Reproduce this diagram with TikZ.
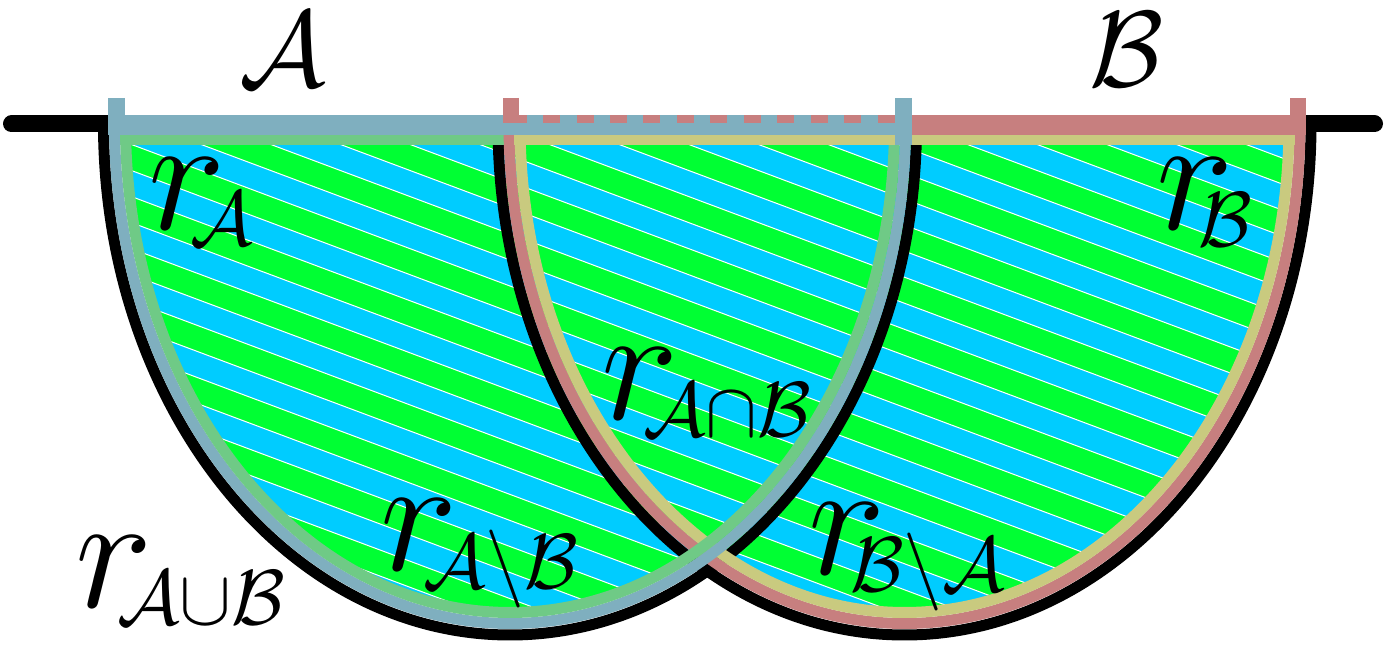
\RequirePackage{fix-cm}
\documentclass[tikz,border=0pt]{standalone}
\usepackage{amsmath,amssymb}
\usepackage{graphicx}
\usepackage{tikz}
\usetikzlibrary{positioning}
\definecolor{cA}{HTML}{7FAFBF}
\definecolor{cAin}{HTML}{6FCA86}
\definecolor{cB}{HTML}{C77F7F}
\definecolor{cBin}{HTML}{C9CA7F}
\definecolor{cG}{HTML}{00FF33}
\definecolor{cS}{HTML}{00CCFF}
\tikzset{
  outline/.style={line width=1.1pt,black},
  rimA/.style={line width=1.1pt,cA},
  rimAin/.style={line width=1.1pt,cAin},
  rimB/.style={line width=1.1pt,cB},
  rimBin/.style={line width=1.1pt,cBin},
  lidA/.style={line width=2pt,cA},
  lidB/.style={line width=2pt,cB},
  lidAin/.style={line width=1pt,cAin},
  lidBin/.style={line width=1pt,cBin},
  dashB/.style={line width=0.8pt,cB,dash pattern=on 1.7pt off 1.65pt},
  tickA/.style={line width=1.7pt,cA},
  tickB/.style={line width=1.6pt,cB},
  hatch/.style={line width=0.1pt,white},
  lbl/.style={inner sep=0pt,anchor=base west,font=\fontsize{16.5}{16.5}\selectfont},
  setlbl/.style={inner sep=0pt,anchor=base,font=\fontsize{10.8}{10.8}\selectfont},
}
% half ellipse hanging from the line: centre x, x radius, y radius, style
\newcommand{\bowl}[4]{\draw[#4] ({#1-#2},528) arc[start angle=180,end angle=360,x radius=#2,y radius=#3];}
% r with a tucked-in subscript
\newcommand{\rlab}[2]{$r$\kern-3.5pt\raisebox{-#2}{\scalebox{0.78}{\fontsize{10}{10}\selectfont$#1$}}}

\begin{document}
\begin{tikzpicture}[x=0.1pt,y=0.1pt]
  \useasboundingbox (0,0) rectangle (1388,652);
  % striped inside of both regions
  \begin{scope}
    \clip (125.5,528) arc[start angle=180,end angle=360,x radius=384.5,y radius=488.5] -- cycle
          (520,528) arc[start angle=180,end angle=360,x radius=384.5,y radius=488.5] -- cycle;
    \fill[cS] (0,0) rectangle (1388,652);
    \begin{scope}[shift={(130,482)},rotate=-20.5]
      \foreach \k in {-35,...,35}{
        \fill[cG] (-3000,{2*\k*24.4}) rectangle (3000,{(2*\k+1)*24.4});
      }
      \foreach \k in {-70,...,70}{
        \draw[hatch] (-3000,{\k*24.4}) -- (3000,{\k*24.4});
      }
    \end{scope}
  \end{scope}
  % base line
  \draw[line width=1.7pt,line cap=round] (11.5,528) -- (1374.5,528);
  % black rims
  \bowl{510}{406.5}{511}{outline}
  \bowl{904.5}{406.5}{511}{outline}
  \draw[lidAin] (119,512) -- (901,512);
  % rims of B, then A on top
  \bowl{904.5}{395.5}{499.5}{rimB}
  \bowl{904.5}{384.5}{488.5}{rimBin}
  \bowl{510}{395.5}{499.5}{rimA}
  \bowl{510}{384.5}{488.5}{rimAin}
  % lids
  \draw[lidBin] (514,512) -- (1295,512);
  \draw[lidA] (108,527) -- (912,527);
  \draw[lidB] (912,527) -- (1306,527);
  \draw[dashB] (509.5,533) -- (895,533);
  \draw[tickA] (116.5,554) -- (116.5,517);
  \draw[tickA] (903.5,554) -- (903.5,507);
  \draw[tickB] (511,554) -- (511,529);
  \draw[tickB] (1298,554) -- (1298,527);
  % labels
  \node[setlbl] (setA) at (283,565) {$\mathcal{A}$};
  \node[setlbl] (setB) at (1127,565) {$\mathcal{B}$};
  \node[lbl] (rA) at (146,422) {\rlab{\mathcal{A}}{1.6pt}};
  \node[lbl] (rB) at (1154,422) {\rlab{\mathcal{B}}{1.7pt}};
  \node[lbl] (rAB) at (599,232) {\rlab{\mathcal{A}{\cap}\mathcal{B}}{1.7pt}};
  \node[lbl] (rAmB) at (379,81) {\rlab{\mathcal{A}{\setminus}\mathcal{B}}{1.7pt}};
  \node[lbl] (rBmA) at (806,77) {\rlab{\mathcal{B}{\setminus}\mathcal{A}}{1.7pt}};
  \node[lbl] (rAuB) at (73,44) {\rlab{\mathcal{A}{\cup}\mathcal{B}}{1.7pt}};
\end{tikzpicture}
\end{document}
